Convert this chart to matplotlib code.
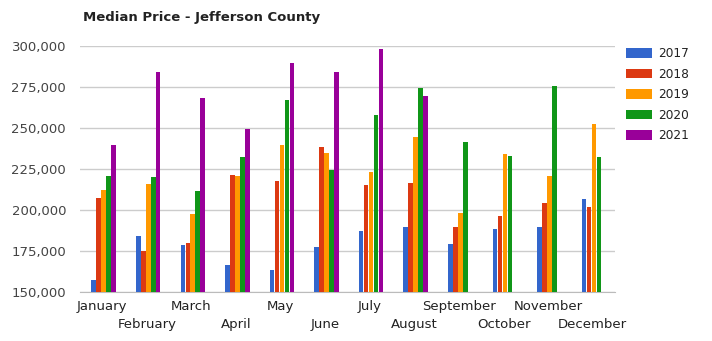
import numpy as np
import matplotlib as mpl
import matplotlib.pyplot as plt
from matplotlib.ticker import FuncFormatter
from matplotlib.patches import Patch

months = ['January', 'February', 'March', 'April', 'May', 'June',
          'July', 'August', 'September', 'October', 'November', 'December']
years = ['2017', '2018', '2019', '2020', '2021']

p2017 = [157500, 184300, 178800, 166600, 163600, 177600,
         187400, 189800, 179500, 188600, 189800, 206900]
p2018 = [207500, 175000, 180000, 221500, 217900, 238600,
         215400, 216600, 189800, 196500, 204500, 202000]
p2019 = [212400, 216000, 197700, 220900, 239800, 234900,
         223400, 244700, 198400, 234300, 220900, 252600]
p2020 = [220900, 220300, 211800, 232500, 267300, 224600,
         258100, 274600, 241700, 233100, 275800, 232500]
p2021 = [239800, 284300, 268500, 249600, 289800, 284300,
         298400, 269700, None, None, None, None]

colors = ['#3366CC', '#DC3912', '#FF9900', '#109618', '#990099']
series = [p2017, p2018, p2019, p2020, p2021]

mpl.rcParams['font.family'] = 'DejaVu Sans'

fig = plt.figure(figsize=(7.12, 3.41), dpi=100)
ax = fig.add_axes([80/712, 1 - 292/341, 535/712, 246/341])

x = np.arange(len(months))
w = 0.112
for i, (vals, c) in enumerate(zip(series, colors)):
    xs = [xi + (i - 2) * w + 0.03 for xi, v in zip(x, vals) if v is not None]
    ys = [v - 150000 for v in vals if v is not None]
    ax.bar(xs, ys, width=w * 0.92, bottom=150000, color=c, zorder=3)

ax.set_xlim(-0.5, 11.5)
ax.set_ylim(150000, 300000)
ax.set_yticks(range(150000, 300001, 25000))
ax.yaxis.set_major_formatter(FuncFormatter(lambda v, p: f'{int(v):,}'))
ax.grid(axis='y', color='#cccccc', linewidth=1, zorder=0)
for s in ['top', 'right', 'left']:
    ax.spines[s].set_visible(False)
ax.spines['bottom'].set_color('#bbbbbb')
ax.tick_params(axis='y', length=0, pad=10, labelsize=9.5, labelcolor='#444444')

# alternate month labels on two rows
ax.set_xticks(x[::2])
ax.set_xticklabels(months[::2])
ax.set_xticks(x[1::2], minor=True)
ax.set_xticklabels(months[1::2], minor=True)
ax.tick_params(axis='x', which='major', length=0, pad=6, labelsize=9.5, labelcolor='#222222')
ax.tick_params(axis='x', which='minor', length=0, pad=19, labelsize=9.5, labelcolor='#222222')

fig.text(83/712, 1 - 18/341, 'Median Price - Jefferson County', fontsize=9.5,
         fontweight='bold', color='#222222', va='center', ha='left')

handles = [Patch(facecolor=c, edgecolor='none') for c in colors]
ax.legend(handles, years, loc='upper left', bbox_to_anchor=(1.0, 1.04),
          frameon=False, fontsize=8.7, handlelength=2.2, handleheight=0.85,
          labelspacing=0.62, handletextpad=0.5, labelcolor='#222222')

fig.savefig('out.png', dpi=100)
